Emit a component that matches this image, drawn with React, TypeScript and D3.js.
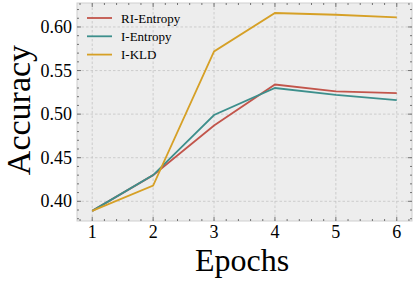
import React, { useEffect, useRef } from 'react';
import * as d3 from 'd3';

const epochs = [1, 2, 3, 4, 5, 6];
const riEntropy = [0.389, 0.430, 0.487, 0.534, 0.526, 0.524];
const iEntropy = [0.389, 0.430, 0.499, 0.530, 0.522, 0.516];
const iKld = [0.389, 0.418, 0.572, 0.616, 0.614, 0.611];
const seriesNames = ['RI-Entropy', 'I-Entropy', 'I-KLD'];
const seriesColors = ['#c2554b', '#3d8f8c', '#d6a026'];
const yTicks = [0.40, 0.45, 0.50, 0.55, 0.60];

const App: React.FC = () => {
  const ref = useRef<SVGSVGElement>(null);

  useEffect(() => {
    if (!ref.current) return;
    const svg = d3.select(ref.current);
    svg.selectAll('*').remove();

    const left = 77, right = 412, top = 3, bottom = 221;
    const font = '"Liberation Serif", "Times New Roman", serif';

    const x = d3.scaleLinear().domain([0.75, 6.25]).range([left, right]);
    const y = d3.scaleLinear().domain([0.3774, 0.6275]).range([bottom, top]);

    svg.append('rect')
      .attr('x', left).attr('y', top)
      .attr('width', right - left).attr('height', bottom - top)
      .attr('fill', '#ededed');

    // grid
    const grid = svg.append('g').attr('stroke', '#c4c4c4').attr('stroke-width', 0.8).attr('stroke-dasharray', '2.5,2');
    epochs.forEach(e => {
      grid.append('line').attr('x1', x(e)).attr('x2', x(e)).attr('y1', top).attr('y2', bottom);
    });
    yTicks.forEach(t => {
      grid.append('line').attr('x1', left).attr('x2', right).attr('y1', y(t)).attr('y2', y(t));
    });

    // lines
    const allSeries = [riEntropy, iEntropy, iKld];
    const line = d3.line<number>()
      .x((_, i) => x(epochs[i]))
      .y(d => y(d));
    allSeries.forEach((s, k) => {
      svg.append('path')
        .datum(s)
        .attr('fill', 'none')
        .attr('stroke', seriesColors[k])
        .attr('stroke-width', 1.8)
        .attr('d', line);
    });

    // frame
    svg.append('rect')
      .attr('x', left).attr('y', top)
      .attr('width', right - left).attr('height', bottom - top)
      .attr('fill', 'none')
      .attr('stroke', '#cfcfcf')
      .attr('stroke-width', 1);

    // ticks (inward, all sides)
    const ticks = svg.append('g').attr('stroke', '#555').attr('stroke-width', 0.8);
    const xMinor = d3.range(0.8, 6.25, 0.2).filter(v => Math.abs(v - Math.round(v)) > 0.01);
    const yMinor = d3.range(0.38, 0.627, 0.01).filter(v => Math.abs(v * 20 - Math.round(v * 20)) > 0.01);
    epochs.forEach(e => {
      ticks.append('line').attr('x1', x(e)).attr('x2', x(e)).attr('y1', bottom).attr('y2', bottom - 4);
      ticks.append('line').attr('x1', x(e)).attr('x2', x(e)).attr('y1', top).attr('y2', top + 4);
    });
    xMinor.forEach(e => {
      ticks.append('line').attr('x1', x(e)).attr('x2', x(e)).attr('y1', bottom).attr('y2', bottom - 2);
      ticks.append('line').attr('x1', x(e)).attr('x2', x(e)).attr('y1', top).attr('y2', top + 2);
    });
    yTicks.forEach(t => {
      ticks.append('line').attr('x1', left).attr('x2', left + 4).attr('y1', y(t)).attr('y2', y(t));
      ticks.append('line').attr('x1', right).attr('x2', right - 4).attr('y1', y(t)).attr('y2', y(t));
    });
    yMinor.forEach(t => {
      ticks.append('line').attr('x1', left).attr('x2', left + 2).attr('y1', y(t)).attr('y2', y(t));
      ticks.append('line').attr('x1', right).attr('x2', right - 2).attr('y1', y(t)).attr('y2', y(t));
    });

    // tick labels
    epochs.forEach(e => {
      svg.append('text')
        .attr('x', x(e)).attr('y', bottom + 17)
        .attr('text-anchor', 'middle')
        .style('font-family', font).style('font-size', '18px')
        .text(e);
    });
    yTicks.forEach(t => {
      svg.append('text')
        .attr('x', left - 5).attr('y', y(t) + 6)
        .attr('text-anchor', 'end')
        .style('font-family', font).style('font-size', '18px')
        .text(t.toFixed(2));
    });

    // axis titles
    svg.append('text')
      .attr('x', 242).attr('y', 271)
      .attr('text-anchor', 'middle')
      .style('font-family', font).style('font-size', '32px')
      .text('Epochs');
    svg.append('text')
      .attr('transform', `translate(30,${(top + bottom) / 2 - 2}) rotate(-90)`)
      .attr('text-anchor', 'middle')
      .style('font-family', font).style('font-size', '34px')
      .text('Accuracy');

    // legend
    seriesNames.forEach((name, k) => {
      const ly = 18 + k * 18.3;
      svg.append('line')
        .attr('x1', 87).attr('x2', 112).attr('y1', ly).attr('y2', ly)
        .attr('stroke', seriesColors[k]).attr('stroke-width', 1.8);
      svg.append('text')
        .attr('x', 121).attr('y', ly + 4.5)
        .style('font-family', font).style('font-size', '13px')
        .text(name);
    });
  }, []);

  return (
    <svg ref={ref} width={415} height={281} style={{ position: 'absolute', left: 0, top: 0, background: '#fff' }}></svg>
  );
};

export default App;
